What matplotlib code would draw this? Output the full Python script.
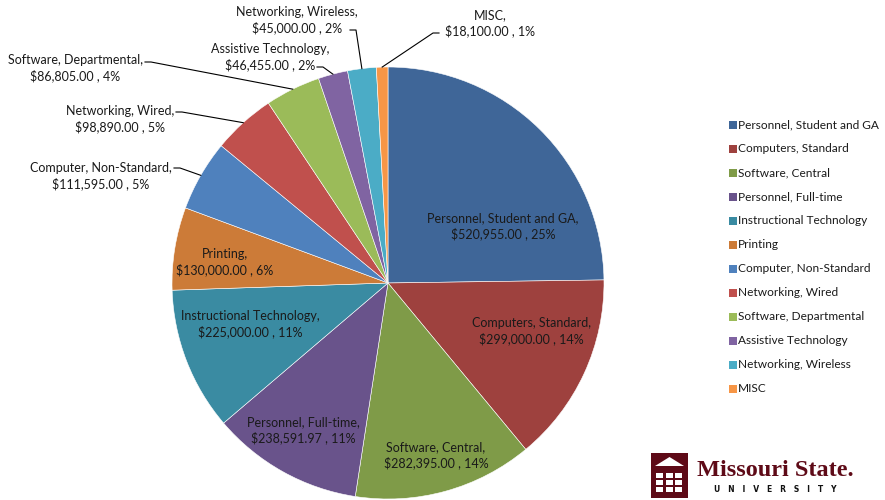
import numpy as np
import matplotlib
matplotlib.use("Agg")
import matplotlib.pyplot as plt
from matplotlib.patches import Rectangle, Polygon

categories = ["Personnel, Student and GA", "Computers, Standard", "Software, Central",
              "Personnel, Full-time", "Instructional Technology", "Printing",
              "Computer, Non-Standard", "Networking, Wired", "Software, Departmental",
              "Assistive Technology", "Networking, Wireless", "MISC"]
values = [520955.00, 299000.00, 282395.00, 238591.97, 225000.00, 130000.00,
          111595.00, 98890.00, 86805.00, 46455.00, 45000.00, 18100.00]
value_labels = ["$520,955.00", "$299,000.00", "$282,395.00", "$238,591.97", "$225,000.00",
                "$130,000.00", "$111,595.00", "$98,890.00", "$86,805.00", "$46,455.00",
                "$45,000.00", "$18,100.00"]
pct_labels = ["25%", "14%", "14%", "11%", "11%", "6%", "5%", "5%", "4%", "2%", "2%", "1%"]
colors = ["#3F6698", "#9E413E", "#7F9B48", "#69538B", "#3A8BA2", "#CC7B38",
          "#4F81BD", "#C0504D", "#9BBB59", "#8064A2", "#4BACC6", "#F79646"]

W, H = 885, 500
CX, CY, R = 388, 283, 216
FONT = "Lato"
FS = 9.0
LFS = 8.6

fig = plt.figure(figsize=(W / 100, H / 100), dpi=100)
ax = fig.add_axes([(CX - R) / W, (H - CY - R) / H, 2 * R / W, 2 * R / H])

wedges, _ = ax.pie(values, colors=colors, startangle=90, counterclock=False, radius=1,
                   wedgeprops=dict(edgecolor="white", linewidth=0.4))
ax.set_aspect("auto")
ax.set_xlim(-1, 1)
ax.set_ylim(-1, 1)
ax.axis("off")


def p2d(px, py):
    return ((px - CX) / R, (CY - py) / R)


def mid_edge(i):
    w = wedges[i]
    a = np.deg2rad((w.theta1 + w.theta2) / 2)
    return np.cos(a), np.sin(a)


# inside labels: text centers in pixel coordinates of the reference layout
inside_pos = {0: (503, 226), 1: (531, 331), 2: (436, 455), 3: (303, 430), 4: (250, 324), 5: (225, 262)}
for i, (px, py) in inside_pos.items():
    x, y = p2d(px, py)
    ax.text(x, y, f"{categories[i]},\n{value_labels[i]} , {pct_labels[i]}", ha="center", va="center",
            fontsize=FS, family=FONT, color="#1a1a1a", linespacing=1.25)

# outside labels: (text center), (leader start), horizontal stub direction
outside = {
    6: ((101, 176), (174, 168), 1),
    7: ((120, 119), (176, 112), 1),
    8: ((75, 68), (145, 62), 1),
    9: ((270, 57), (317, 67), 1),
    10: ((297, 20), (350, 30), 1),
    11: ((490, 23), (439, 33), -1),
}
for i, ((px, py), (sx, sy), d) in outside.items():
    x, y = p2d(px, py)
    ax.text(x, y, f"{categories[i]},\n{value_labels[i]} , {pct_labels[i]}", ha="center", va="center",
            fontsize=FS, family=FONT, color="#1a1a1a", linespacing=1.25, clip_on=False)
    x0, y0 = p2d(sx, sy)
    x1, y1 = p2d(sx + 6 * d, sy)
    ex, ey = mid_edge(i)
    ax.plot([x0, x1, ex], [y0, y1, ey], color="black", lw=0.8, clip_on=False)

# legend
for k, (c, name) in enumerate(zip(colors, categories)):
    ly = 125 + 24 * k
    fig.patches.append(Rectangle((729 / W, (H - ly - 4) / H), 8 / W, 8 / H, transform=fig.transFigure,
                                 facecolor=c, edgecolor="none"))
    fig.text(738 / W, (H - ly) / H, name, ha="left", va="center", fontsize=LFS, family=FONT, color="#1a1a1a")

# logo
maroon = "#5E0A17"
fig.patches.append(Rectangle((651 / W, (H - 498) / H), 37 / W, 45 / H, transform=fig.transFigure,
                             facecolor=maroon, edgecolor="none"))
fig.patches.append(Polygon([(655 / W, (H - 466) / H), (669.5 / W, (H - 457) / H), (684 / W, (H - 466) / H)],
                           closed=True, transform=fig.transFigure, facecolor="white", edgecolor="none"))
for col in range(3):
    for row in range(3):
        fig.patches.append(Rectangle(((656 + col * 9.5) / W, (H - 478 - row * 7) / H), 7 / W, 5 / H,
                                     transform=fig.transFigure, facecolor="white", edgecolor="none"))
fig.text(697 / W, (H - 470) / H, "Missouri State.", ha="left", va="center", fontsize=17.5,
         family="Liberation Serif", weight="bold", color=maroon)
fig.text(775 / W, (H - 490) / H, "U   N   I   V   E   R   S   I   T   Y", ha="center", va="center",
         fontsize=5.5, family="DejaVu Sans", weight="bold", color="#111111")

fig.savefig("out.png", dpi=100, facecolor="white")
